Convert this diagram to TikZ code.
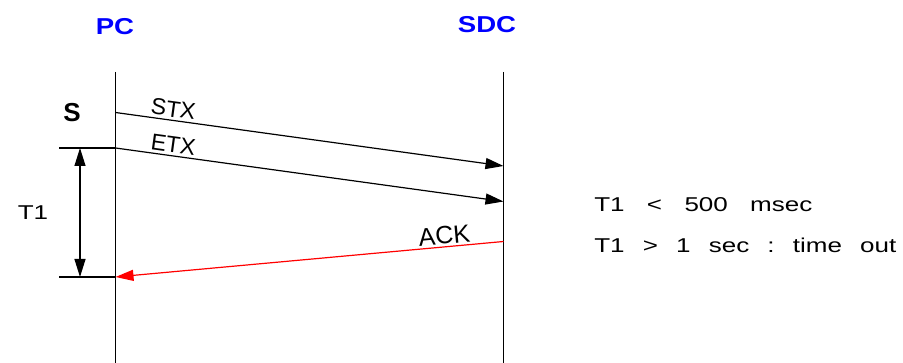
\documentclass[tikz,border=0pt]{standalone}
\usepackage{fontspec}
\setmainfont{Liberation Sans}
\usetikzlibrary{arrows.meta}

\begin{document}
\begin{tikzpicture}[
          x=1pt, y=-1pt,
          every node/.style={inner sep=0pt},
          party/.style={font=\fontsize{23}{24}\selectfont\bfseries,text=blue,xscale=1.2},
          lifeline/.style={line width=1.1pt},
          msg/.style={line width=1.2pt,-{Triangle[length=18pt,width=11pt]}},
          msglabel/.style={font=\fontsize{23}{24}\selectfont,sloped,above,inner sep=2.5pt},
          tick/.style={line width=2pt},
          note/.style={font=\fontsize{20}{22}\selectfont,xscale=1.3},
      ]
        \useasboundingbox (0,0) rectangle (903,363);

        % parties and lifelines
        \node[party] (pc) at (115,27) {PC};
        \node[party] (sdc) at (487,25) {SDC};
        \coordinate (pcTop) at (115.5,72);
        \coordinate (pcBot) at (115.5,363);
        \coordinate (sdcTop) at (503.5,72);
        \coordinate (sdcBot) at (503.5,363);
        \draw[lifeline] (pcTop) -- (pcBot);
        \draw[lifeline] (sdcTop) -- (sdcBot);

        % messages
        \coordinate (stxS) at (115.5,112.5);
        \coordinate (stxE) at (503.5,166);
        \coordinate (etxS) at (115.5,148);
        \coordinate (etxE) at (503.5,201.5);
        \coordinate (ackS) at (503.5,241.5);
        \coordinate (ackE) at (115.5,277);
        \draw[msg] (stxS) -- node[msglabel,pos=0.145] (stx) {STX} (stxE);
        \draw[msg] (etxS) -- node[msglabel,pos=0.145] (etx) {ETX} (etxE);
        \draw[msg,red] (ackS) -- node[msglabel,pos=0.15,text=black,
          font=\fontsize{25}{26}\selectfont,inner sep=2pt] (ack) {ACK} (ackE);

        % timer T1
        \node[font=\fontsize{26}{28}\selectfont\bfseries] (s) at (72,113) {S};
        \coordinate (t1Top) at (59,148);
        \coordinate (t1Bot) at (59,277);
        \coordinate (dimTop) at (80,148);
        \coordinate (dimBot) at (80,277);
        \draw[tick] (t1Top) -- (etxS);
        \draw[tick] (t1Bot) -- (ackE);
        \draw[line width=1.2pt,{Triangle[length=18pt,width=11pt]}-{Triangle[length=18pt,width=11pt]}]
          (dimTop) -- (dimBot);
        \node[note] (t1) at (33,213) {T1};

        \node[note,anchor=west] (rule1) at (594,205)
          {T1\hspace{0.86em}<\hspace{0.86em}500\hspace{0.86em}msec};
        \node[note,anchor=west] (rule2) at (594,245)
          {T1\hspace{0.7em}>\hspace{0.7em}1\hspace{0.7em}sec\hspace{0.7em}:\hspace{0.7em}time\hspace{0.7em}out};
      \end{tikzpicture}
\end{document}
